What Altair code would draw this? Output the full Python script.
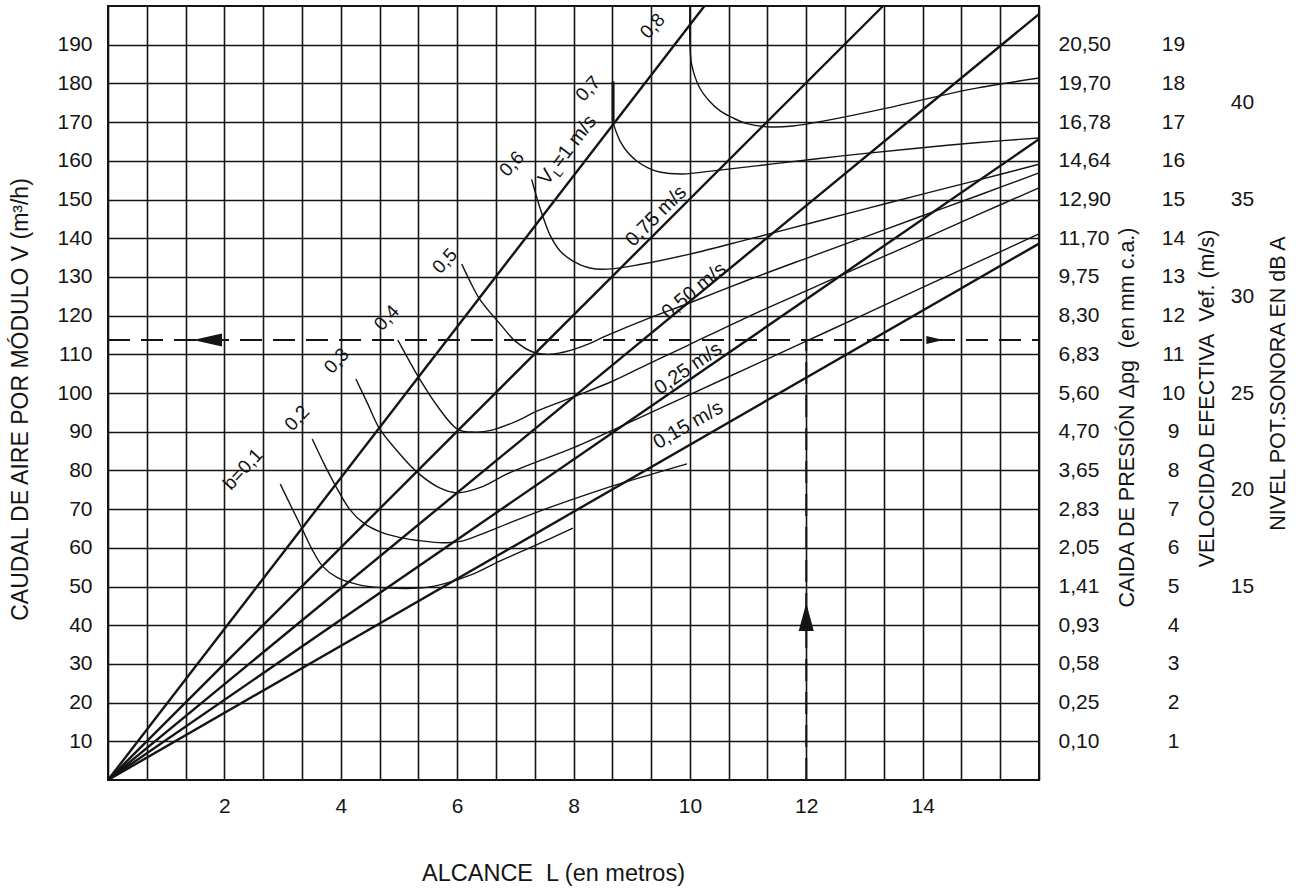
import altair as alt
import pandas as pd

FONT = "Liberation Sans"
INK = "#141414"

# ---------------- axis values / labels ----------------
Y_TICKS = [10, 20, 30, 40, 50, 60, 70, 80, 90, 100, 110, 120, 130, 140, 150, 160, 170, 180, 190]
X_GRID = [k * 2 / 3 for k in range(25)]
X_LABELS = [2, 4, 6, 8, 10, 12, 14]
PRESSURE = ["0,10", "0,25", "0,58", "0,93", "1,41", "2,05", "2,83", "3,65", "4,70", "5,60",
            "6,83", "8,30", "9,75", "11,70", "12,90", "14,64", "16,78", "19,70", "20,50"]
VELOCITY = ["1", "2", "3", "4", "5", "6", "7", "8", "9", "10",
            "11", "12", "13", "14", "15", "16", "17", "18", "19"]
DB_AT = [50, 75, 100, 125, 150, 175]
DB_LABELS = ["15", "20", "25", "30", "35", "40"]

# ---------------- straight lines from the origin ----------------
RAY_NAMES = ["1 m/s", "0,75 m/s", "0,50 m/s", "0,25 m/s", "0,15 m/s"]
RAY_END_X = [10.25, 13.32, 16.0, 16.0, 16.0]
RAY_END_Y = [200.0, 200.0, 197.9, 165.6, 138.6]

# ray labels (text centre)
RAY_LABELS = ["0,75 m/s", "0,50 m/s", "0,25 m/s", "0,15 m/s"]
RAY_LABEL_X = [9.42, 10.07, 9.97, 9.97]
RAY_LABEL_Y = [145.7, 126.4, 106.3, 91.7]
RAY_LABEL_ANGLE = [315.1, 320.6, 325.5, 330.1]

# ---------------- b curves ----------------
B_NAMES = ["0,1", "0,2", "0,3", "0,4", "0,5", "0,6", "0,7", "0,8"]
B01_X = [2.96, 3.15, 3.33, 3.50, 3.69, 3.95, 4.30, 4.70, 5.10, 5.45, 5.80, 6.27, 6.74, 7.40, 7.99]
B01_Y = [76.5, 70.6, 65.1, 59.8, 55.2, 52.2, 50.5, 49.7, 49.5, 49.7, 50.8, 53.2, 56.6, 61.0, 65.1]
B02_X = [3.51, 3.72, 3.93, 4.16, 4.40, 4.70, 5.14, 5.50, 5.82, 6.10, 6.50, 6.86, 7.42, 8.00, 8.57, 9.25, 9.95]
B02_Y = [88.1, 81.5, 75.5, 69.8, 66.3, 64.0, 62.3, 61.6, 61.3, 61.8, 64.0, 66.2, 69.5, 72.6, 75.5, 78.6, 81.7]
B03_X = [4.26, 4.47, 4.67, 5.00, 5.33, 5.70, 6.01, 6.40, 6.86, 7.40, 7.99, 9.02, 10.0, 11.0, 12.0, 13.0, 14.0, 15.0, 16.0]
B03_Y = [103.6, 97.0, 90.7, 84.5, 79.3, 75.5, 74.2, 75.6, 79.1, 82.4, 85.8, 92.8, 99.6, 106.5, 113.4, 120.3, 127.3, 134.2, 141.1]
B04_X = [4.98, 5.17, 5.36, 5.68, 6.01, 6.30, 6.60, 7.00, 7.37, 8.00, 8.68, 9.30, 9.95, 11.0, 12.0, 13.0, 14.0, 15.0, 16.0]
B04_Y = [113.7, 108.5, 103.5, 96.2, 90.6, 89.9, 90.4, 92.6, 95.3, 99.0, 103.1, 107.6, 112.2, 119.7, 126.4, 133.1, 139.7, 146.4, 153.0]
B05_X = [6.08, 6.22, 6.39, 6.74, 7.00, 7.30, 7.60, 7.95, 8.23, 8.57, 9.31, 9.95, 11.0, 12.0, 13.0, 14.0, 15.0, 16.0]
B05_Y = [133.3, 128.9, 124.2, 117.8, 113.4, 110.6, 110.0, 111.0, 112.5, 114.8, 119.4, 123.0, 129.2, 134.8, 140.3, 145.8, 151.3, 156.9]
B06_X = [7.28, 7.35, 7.42, 7.50, 7.59, 7.77, 7.99, 8.28, 8.57, 9.14, 10.0, 11.0, 12.0, 13.0, 14.0, 15.0, 16.0]
B06_Y = [155.2, 151.5, 148.0, 144.5, 141.0, 136.7, 134.1, 132.3, 132.0, 133.2, 135.9, 139.7, 143.6, 147.5, 151.4, 155.2, 159.1]
B07_X = [8.68, 8.74, 8.80, 8.93, 9.09, 9.28, 9.48, 9.88, 10.40, 11.43, 12.58, 13.73, 14.86, 16.0]
B07_Y = [169.8, 167.2, 165.1, 162.2, 159.9, 158.2, 157.1, 156.6, 157.4, 159.2, 161.2, 163.0, 164.6, 165.9]
B08_X = [10.0, 10.0, 10.03, 10.17, 10.35, 10.52, 10.75, 10.98, 11.32, 11.77, 12.58, 13.38, 14.07, 14.86, 16.0]
B08_Y = [200.0, 191.0, 185.0, 178.8, 175.2, 172.9, 171.0, 169.6, 168.8, 169.0, 171.1, 173.6, 176.0, 178.6, 181.4]

# b labels (text centre)
B_LABELS = ["b=0,1", "0,2", "0,3", "0,4", "0,5", "0,6", "0,7", "0,8"]
B_LABEL_X = [2.32, 3.25, 3.93, 4.79, 5.79, 6.94, 8.25, 9.36]
B_LABEL_Y = [80.3, 93.5, 108.3, 119.4, 134.1, 159.2, 178.6, 194.8]

# marker segment on the 0,7 curve
B07_MARK_X = [8.68]
B07_MARK_Y = [169.8]
B07_MARK_Y2 = [180.5]

# worked example (dashed)
EX_L = 12.0
EX_V = 113.7
ARROW_LEFT_X = 1.71
ARROW_RIGHT_X = 14.21
ARROW_UP_Y = 42.1

# V_L label anchor (baseline start)
VL_X = 7.55
VL_Y = 153.5

# ---------------- tables ----------------
ray_rows = []
for n, ex, ey in zip(RAY_NAMES, RAY_END_X, RAY_END_Y):
    ray_rows.append({"name": n, "i": 0, "x": 0.0, "y": 0.0})
    ray_rows.append({"name": n, "i": 1, "x": ex, "y": ey})
ray_df = pd.DataFrame(ray_rows)

curve_rows = []
for n, xs, ys in zip(B_NAMES,
                     [B01_X, B02_X, B03_X, B04_X, B05_X, B06_X, B07_X, B08_X],
                     [B01_Y, B02_Y, B03_Y, B04_Y, B05_Y, B06_Y, B07_Y, B08_Y]):
    for i, (xx, yy) in enumerate(zip(xs, ys)):
        curve_rows.append({"b": n, "i": i, "x": xx, "y": yy})
curve_df = pd.DataFrame(curve_rows)

dash_df = pd.DataFrame([
    {"name": "h", "i": 0, "x": 0.0, "y": EX_V},
    {"name": "h", "i": 1, "x": 16.0, "y": EX_V},
    {"name": "v", "i": 0, "x": EX_L, "y": 0.0},
    {"name": "v", "i": 1, "x": EX_L, "y": EX_V},
])

blab_df = pd.DataFrame({"t": B_LABELS, "x": B_LABEL_X, "y": B_LABEL_Y})
rlab_df = pd.DataFrame({"t": RAY_LABELS, "x": RAY_LABEL_X, "y": RAY_LABEL_Y, "a": RAY_LABEL_ANGLE})

# ---------------- scales & axes ----------------
XS = alt.Scale(domain=[0, 16], nice=False, zero=False)
YS = alt.Scale(domain=[0, 200], nice=False, zero=False)

lab_list = ",".join(str(v) for v in X_LABELS)
x_axis = alt.Axis(
    values=X_GRID,
    labelExpr=f"(abs(datum.value - round(datum.value)) < 0.01 && indexof([{lab_list}], round(datum.value)) >= 0) ? '' + round(datum.value) : ''",
    grid=True, gridColor=INK, gridWidth=1.6, gridOpacity=1,
    ticks=False, domain=False, labelOverlap=False, labelFlush=False,
    labelFont=FONT, labelFontSize=21, labelColor=INK, labelPadding=15,
    title="ALCANCE\u00a0 L (en metros)", titleFont=FONT, titleFontSize=23.5,
    titleFontWeight="normal", titleColor=INK, titleX=445, titleY=93,
    titleAlign="center", titleBaseline="middle", titleAngle=0,
)

left_axis = alt.Axis(
    values=Y_TICKS, grid=True, gridColor=INK, gridWidth=1.6, gridOpacity=1,
    ticks=False, domain=False, labelOverlap=False,
    labelFont=FONT, labelFontSize=21, labelColor=INK, labelPadding=16,
    title="CAUDAL DE AIRE POR MÓDULO V (m³/h)", titleFont=FONT, titleFontSize=23,
    titleFontWeight="normal", titleColor=INK, titleX=-88, titleY=393,
    titleAngle=270, titleAlign="center", titleBaseline="middle",
)


def arr(lst):
    return "[" + ",".join("'" + s + "'" for s in lst) + "]"


pressure_axis = alt.Axis(
    orient="right", values=Y_TICKS,
    labelExpr=f"{arr(PRESSURE)}[round(datum.value / 10) - 1]",
    grid=False, ticks=False, domain=False, labelOverlap=False,
    labelFont=FONT, labelFontSize=21, labelColor=INK, labelPadding=19, labelAlign="left",
    title="CAIDA DE PRESIÓN \u0394pg\u00a0 (en mm c.a.)", titleFont=FONT, titleFontSize=21.5,
    titleFontWeight="normal", titleColor=INK, titleX=88, titleY=411,
    titleAngle=270, titleAlign="center", titleBaseline="middle",
)

velocity_axis = alt.Axis(
    orient="right", values=Y_TICKS,
    labelExpr=f"{arr(VELOCITY)}[round(datum.value / 10) - 1]",
    grid=False, ticks=False, domain=False, labelOverlap=False,
    labelFont=FONT, labelFontSize=21, labelColor=INK, labelPadding=134, labelAlign="center",
    title="VELOCIDAD EFECTIVA\u00a0 Vef. (m/s)", titleFont=FONT, titleFontSize=21.5,
    titleFontWeight="normal", titleColor=INK, titleX=168, titleY=392,
    titleAngle=270, titleAlign="center", titleBaseline="middle",
)

db_axis = alt.Axis(
    orient="right", values=DB_AT,
    labelExpr=f"{arr(DB_LABELS)}[indexof({str(DB_AT)}, round(datum.value))]",
    grid=False, ticks=False, domain=False, labelOverlap=False,
    labelFont=FONT, labelFontSize=21, labelColor=INK, labelPadding=203, labelAlign="center",
    title="NIVEL POT.SONORA EN dB A", titleFont=FONT, titleFontSize=21.5,
    titleFontWeight="normal", titleColor=INK, titleX=239, titleY=377,
    titleAngle=270, titleAlign="center", titleBaseline="middle",
)


def X(axis=None):
    return alt.X("x:Q", scale=XS, axis=axis)


def Y(axis=None, field="y:Q"):
    return alt.Y(field, scale=YS, axis=axis)


# ---------------- layers ----------------
rays = alt.Chart(ray_df).mark_line(color=INK, strokeWidth=2.4).encode(
    x=X(x_axis), y=Y(left_axis), detail="name:N", order="i:Q")

curves = alt.Chart(curve_df).mark_line(
    color=INK, strokeWidth=1.4, interpolate="catmull-rom").encode(
    x=X(), y=Y(pressure_axis), detail="b:N", order="i:Q")

b07_mark = alt.Chart(pd.DataFrame({"x": B07_MARK_X, "y": B07_MARK_Y, "y2": B07_MARK_Y2})).mark_rule(
    color=INK, strokeWidth=3).encode(x=X(), y=Y(), y2="y2:Q")

dashed = alt.Chart(dash_df).mark_line(color=INK, strokeWidth=2, strokeDash=[22, 11]).encode(
    x=X(), y=Y(velocity_axis), detail="name:N", order="i:Q")

arrow_left = alt.Chart(pd.DataFrame({"x": [ARROW_LEFT_X], "y": [EX_V]})).mark_point(
    shape="M-1,0L1,-0.45L1,0.45Z", size=841, filled=True, color=INK, opacity=1, strokeWidth=0).encode(
    x=X(), y=Y())
arrow_right = alt.Chart(pd.DataFrame({"x": [ARROW_RIGHT_X], "y": [EX_V]})).mark_point(
    shape="M1,0L-1,-0.47L-1,0.47Z", size=289, filled=True, color=INK, opacity=1, strokeWidth=0).encode(
    x=X(), y=Y())
arrow_up = alt.Chart(pd.DataFrame({"x": [EX_L], "y": [ARROW_UP_Y]})).mark_point(
    shape="M0,-1L-0.54,1L0.54,1Z", size=784, filled=True, color=INK, opacity=1, strokeWidth=0).encode(
    x=X(), y=Y())

b_labels = alt.Chart(blab_df).mark_text(
    font=FONT, fontSize=19, angle=313, color=INK, align="center", baseline="middle").encode(
    x=X(), y=Y(db_axis), text="t:N")

ray_labels = alt.Chart(rlab_df).mark_text(
    font=FONT, fontSize=20, color=INK, align="center", baseline="middle").encode(
    x=X(), y=Y(), text="t:N", angle=alt.Angle("a:Q", scale=None))

vl_df = pd.DataFrame({"x": [VL_X], "y": [VL_Y]})
vl_v = alt.Chart(vl_df).mark_text(
    text="V", font=FONT, fontSize=20, angle=307.6, color=INK, align="left", baseline="alphabetic").encode(
    x=X(), y=Y())
vl_l = alt.Chart(vl_df).mark_text(
    text="L", font=FONT, fontSize=13, angle=307.6, color=INK, align="left", baseline="alphabetic",
    dx=13.5, dy=5).encode(x=X(), y=Y())
vl_rest = alt.Chart(vl_df).mark_text(
    text="=1 m/s", font=FONT, fontSize=20, angle=307.6, color=INK, align="left", baseline="alphabetic",
    dx=21).encode(x=X(), y=Y())

chart = alt.layer(
    rays, curves, b07_mark, dashed, arrow_left, arrow_right, arrow_up,
    b_labels, ray_labels, vl_v, vl_l, vl_rest,
).resolve_axis(x="independent", y="independent").properties(
    width=931, height=774,
    autosize=alt.AutoSizeParams(type="none"),
    padding={"left": 108, "top": 6, "right": 259, "bottom": 109},
    background="white",
).configure_view(stroke=INK, strokeWidth=2)

chart.save("out.html", embed_options={"renderer": "svg", "actions": False})
